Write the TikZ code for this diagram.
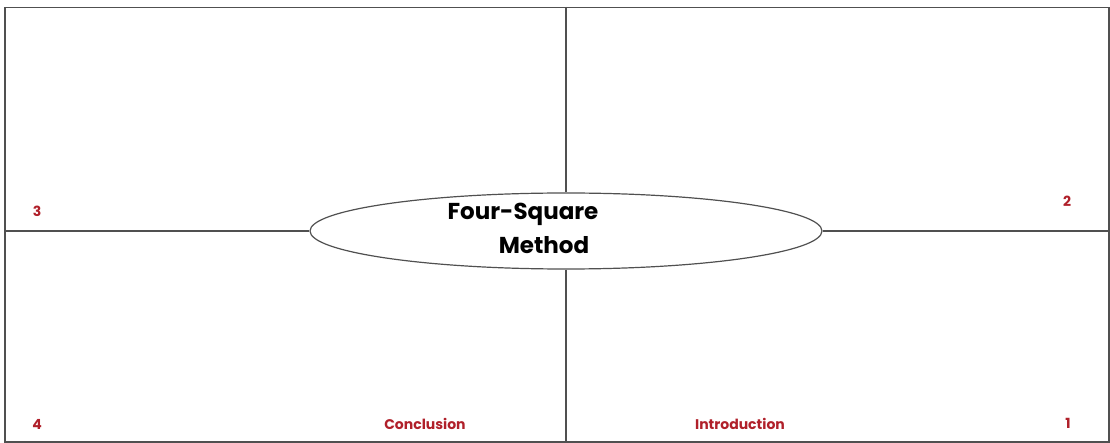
\documentclass[tikz,border=0pt]{standalone}
\usepackage{fontspec}
\setmainfont{Poppins}
\usetikzlibrary{shapes.geometric}
\definecolor{lbl}{HTML}{B0202A}
\definecolor{ln}{HTML}{505050}
\tikzset{
  frame/.style={draw=ln, line width=1.5pt},
  lbltext/.style={text=lbl, font=\fontsize{14}{16}\selectfont\bfseries, inner sep=0pt},
  mid/.style={ellipse, draw=ln, line width=1.2pt, minimum width=512pt, minimum height=76pt, inner sep=0pt},
  midtext/.style={inner sep=0pt, font=\fontsize{23}{28}\selectfont\bfseries}
}
\begin{document}
\begin{tikzpicture}[x=1pt,y=-1pt]
\useasboundingbox (0,0) rectangle (1110,443);
\fill[white] (0,0) rectangle (1110,443);
\node[frame, minimum width=1104pt, minimum height=434pt, inner sep=0pt, anchor=north west] (box) at (4,7) {};
\node[mid] (c) at (566,231) {};
\node[midtext] (t1) at (523,214) {Four-Square};
\node[midtext] (t2) at (544,245) {Method};
\coordinate (t) at (566,7);
\coordinate (b) at (566,441);
\coordinate (l) at (4,231);
\coordinate (r) at (1108,231);
\draw[frame] (t) -- (c.north);
\draw[frame] (c.south) -- (b);
\draw[frame] (l) -- (c.west);
\draw[frame] (c.east) -- (r);
\node[lbltext] (n3) at (37,211) {3};
\node[lbltext] (n2) at (1067,201) {2};
\node[lbltext] (n4) at (37,424) {4};
\node[lbltext] (n1) at (1068,423) {1};
\node[lbltext] (concl) at (425,424) {Conclusion};
\node[lbltext] (intro) at (740,424) {Introduction};
\end{tikzpicture}
\end{document}
